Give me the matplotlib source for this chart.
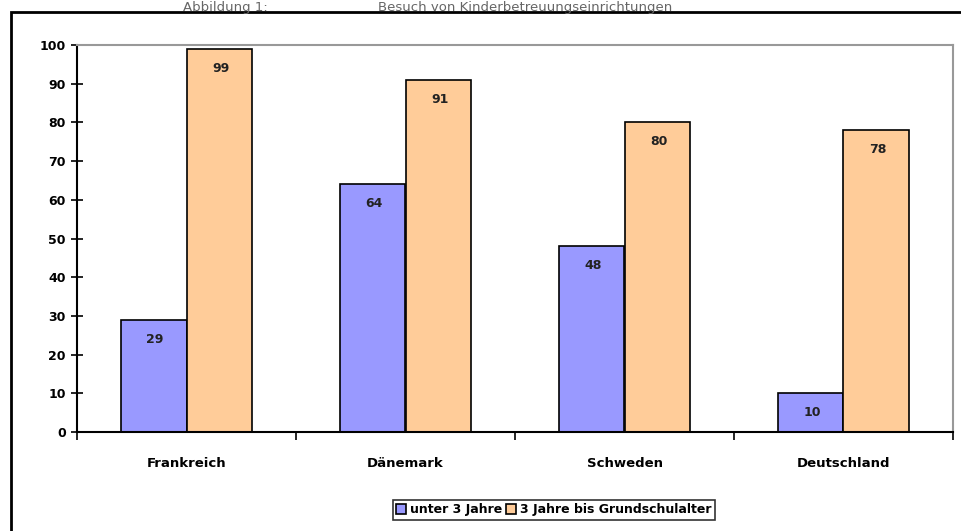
import matplotlib
matplotlib.use("Agg")
import matplotlib.pyplot as plt
from matplotlib.patches import Rectangle
import numpy as np

categories = ["Frankreich", "Dänemark", "Schweden", "Deutschland"]
series_names = ["unter 3 Jahre", "3 Jahre bis Grundschulalter"]
under3 = [29, 64, 48, 10]
over3 = [99, 91, 80, 78]
yticks = [0, 10, 20, 30, 40, 50, 60, 70, 80, 90, 100]

W, H = 962, 531
fig = plt.figure(figsize=(W / 100, H / 100), dpi=100)
fig.patch.set_facecolor("white")

# outer frame
fig.patches.append(Rectangle((11 / W, -0.05), 1.1, 1 - 12 / H + 0.05,
                             transform=fig.transFigure, fill=False,
                             edgecolor="black", linewidth=2.0))

# title
fig.text(183 / W, 1 - 0.5 / H, "Abbildung 1:", color="#666666", fontsize=9.5,
         ha="left", va="top")
fig.text(378 / W, 1 - 0.5 / H, "Besuch von Kinderbetreuungseinrichtungen",
         color="#666666", fontsize=9.5, ha="left", va="top")

left, right, top, bottom = 77, 953, 45, 432
ax = fig.add_axes([left / W, 1 - bottom / H, (right - left) / W, (bottom - top) / H])

x = np.arange(len(categories))
bw = 0.3
b1 = ax.bar(x - bw / 2, under3, bw, color="#9999FF", edgecolor="black",
            linewidth=1.2, label=series_names[0])
b2 = ax.bar(x + bw / 2, over3, bw, color="#FFCC99", edgecolor="black",
            linewidth=1.2, label=series_names[1])

for bars, vals in ((b1, under3), (b2, over3)):
    for r, v in zip(bars, vals):
        ax.annotate(str(v), (r.get_x() + r.get_width() / 2, v),
                    xytext=(1, -14), textcoords="offset points",
                    ha="center", va="center", fontsize=9, fontweight="bold",
                    color="#222222")

ax.set_xlim(-0.5, len(categories) - 0.5)
ax.set_ylim(0, 100)
ax.set_yticks(yticks)
ax.set_yticklabels([str(t) for t in yticks], fontsize=9, fontweight="bold")
ax.set_xticks(x)
ax.set_xticklabels(categories, fontsize=9.5, fontweight="bold")
ax.tick_params(axis="x", which="major", length=0, pad=18)
ax.set_xticks(np.arange(len(categories) + 1) - 0.5, minor=True)
ax.tick_params(axis="x", which="minor", length=6, width=1.2, direction="out")
ax.tick_params(axis="y", length=8, width=1.2, direction="inout", pad=4)

for s in ("top", "right"):
    ax.spines[s].set_color("#999999")
    ax.spines[s].set_linewidth(1.5)
for s in ("left", "bottom"):
    ax.spines[s].set_color("black")
    ax.spines[s].set_linewidth(1.5)

leg = fig.legend(handles=[b1, b2], labels=series_names, loc="center",
                 bbox_to_anchor=(554 / W, 1 - 510 / H), ncol=2, frameon=True,
                 fancybox=False, edgecolor="black",
                 prop={"weight": "bold", "size": 9},
                 handlelength=0.8, handleheight=0.8, handletextpad=0.3,
                 columnspacing=0.3, borderpad=0.3, borderaxespad=0)
leg.get_frame().set_linewidth(1.2)

fig.savefig("out.png", dpi=100)
